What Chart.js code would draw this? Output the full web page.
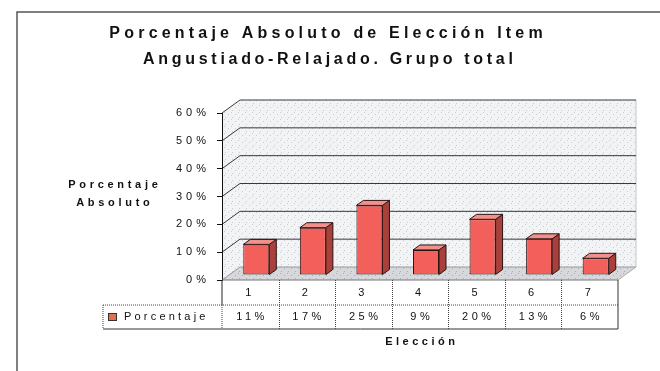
<!DOCTYPE html>
<html>
<head>
<meta charset="utf-8">
<script src="https://cdn.jsdelivr.net/npm/chart.js@4/dist/chart.umd.min.js"></script>
<style>
  html, body { margin: 0; padding: 0; background: #fff; }
  canvas { display: block; }
</style>
</head>
<body>
<canvas id="eleccion" width="660" height="371"></canvas>
<script>
const categories = ["1", "2", "3", "4", "5", "6", "7"];
const porcentaje = [11, 17, 25, 9, 20, 13, 6];
const yTicks = [0, 10, 20, 30, 40, 50, 60];
const titleLines = ["Porcentaje Absoluto de Elección Item", "Angustiado-Relajado. Grupo total"];
const yTitleLines = ["Porcentaje", "Absoluto"];
const xTitle = "Elección";
const seriesName = "Porcentaje";

// depth of the 3D box, offset of the bars inside it and the bars' own depth
const DEPTH = { x: 18, y: -13 };
const BAR_SHIFT = { x: 6, y: -5 };
const BAR_DEPTH = { x: 7, y: -5 };

const FAMILY = '"Liberation Sans", Arial, sans-serif';

function poly(ctx, pts, fill, stroke, width) {
  ctx.beginPath();
  ctx.moveTo(pts[0][0], pts[0][1]);
  for (let i = 1; i < pts.length; i++) ctx.lineTo(pts[i][0], pts[i][1]);
  ctx.closePath();
  if (fill) { ctx.fillStyle = fill; ctx.fill(); }
  if (stroke) { ctx.strokeStyle = stroke; ctx.lineWidth = width || 1; ctx.stroke(); }
}

function line(ctx, x1, y1, x2, y2, color, dash) {
  ctx.save();
  ctx.strokeStyle = color;
  ctx.lineWidth = 1;
  ctx.setLineDash(dash || []);
  ctx.beginPath();
  ctx.moveTo(x1, y1);
  ctx.lineTo(x2, y2);
  ctx.stroke();
  ctx.restore();
}

// text with wide letter spacing, like the old spreadsheet export
function spacedText(ctx, text, x, y, font, spacing, align) {
  ctx.save();
  ctx.font = font;
  ctx.letterSpacing = spacing + "px";
  ctx.textBaseline = "middle";
  ctx.textAlign = "left";
  const w = ctx.measureText(text).width - spacing;
  let sx = x;
  if (align === "center") sx = x - w / 2;
  else if (align === "right") sx = x - w;
  ctx.fillStyle = "#111";
  ctx.fillText(text, sx, y);
  ctx.restore();
}

function wallPattern(ctx, base, dot) {
  const c = document.createElement("canvas");
  c.width = 7; c.height = 7;
  const p = c.getContext("2d");
  p.fillStyle = base; p.fillRect(0, 0, 7, 7);
  p.fillStyle = dot;
  p.fillRect(0, 0, 1, 1); p.fillRect(4, 2, 1, 1); p.fillRect(1, 5, 1, 1);
  return ctx.createPattern(c, "repeat");
}

const box3d = {
  id: "box3d",
  beforeDraw(chart) {
    const { ctx, chartArea: a, scales: { y } } = chart;
    const L = a.left, R = a.right, T = a.top, B = a.bottom;
    const dx = DEPTH.x, dy = DEPTH.y;
    ctx.save();
    // outer frame
    ctx.strokeStyle = "#555";
    ctx.lineWidth = 1.5;
    ctx.strokeRect(17, 12, 700, 400);

    const wall = wallPattern(ctx, "#f1f3f5", "#c8ccd3");
    poly(ctx, [[L, B], [L, T], [L + dx, T + dy], [L + dx, B + dy]], wall);
    poly(ctx, [[L + dx, T + dy], [R + dx, T + dy], [R + dx, B + dy], [L + dx, B + dy]], wall);
    poly(ctx, [[L, B], [R, B], [R + dx, B + dy], [L + dx, B + dy]], wallPattern(ctx, "#d6d8db", "#a9adb3"));
    line(ctx, R, B, R + dx, B + dy, "#aaa");
    line(ctx, R + dx, T + dy, R + dx, B + dy, "#c4c4c4");

    yTicks.forEach(v => {
      const py = y.getPixelForValue(v);
      const c = v === 0 ? "#999" : "#3a3a3a";
      line(ctx, L, py, L + dx, py + dy, c);
      line(ctx, L + dx, py + dy, R + dx, py + dy, c);
    });
    ctx.restore();
    ctx.letterSpacing = "4px";
  }
};

const bars3d = {
  id: "bars3d",
  beforeDatasetsDraw(chart) {
    chart.ctx.save();
    chart.ctx.translate(BAR_SHIFT.x, BAR_SHIFT.y);
  },
  afterDatasetsDraw(chart) {
    const ctx = chart.ctx;
    const dx = BAR_DEPTH.x, dy = BAR_DEPTH.y;
    chart.getDatasetMeta(0).data.forEach(bar => {
      const { x, y, base, width } = bar.getProps(["x", "y", "base", "width"], true);
      const l = x - width / 2, r = x + width / 2;
      poly(ctx, [[r, y], [r + dx, y + dy], [r + dx, base + dy], [r, base]], "#a9403b", "#2a1414");
      poly(ctx, [[l, y], [l + dx, y + dy], [r + dx, y + dy], [r, y]], "#f39089", "#2a1414");
    });
    ctx.restore();
  }
};

const tableAndTitles = {
  id: "tableAndTitles",
  afterDraw(chart) {
    const { ctx, chartArea: a, scales: { x } } = chart;
    const colW = (a.right - a.left) / categories.length;
    const rowTop = a.bottom, rowMid = a.bottom + 25, rowBot = a.bottom + 49;
    const legendLeft = 103;
    const dots = [1, 1];

    line(ctx, a.left, rowTop, a.right, rowTop, "#777");
    line(ctx, a.left, rowTop, a.left, rowMid, "#222");
    line(ctx, a.right, rowTop, a.right, rowBot, "#333");
    line(ctx, legendLeft, rowBot, a.right, rowBot, "#333");
    line(ctx, legendLeft, rowMid, a.right, rowMid, "#444", dots);
    line(ctx, legendLeft, rowMid, legendLeft, rowBot, "#444", dots);
    line(ctx, a.left, rowMid, a.left, rowBot, "#444", dots);
    for (let i = 1; i < categories.length; i++) {
      const cx = Math.round(a.left + i * colW) + 0.5;
      line(ctx, cx, rowTop, cx, rowBot, "#444", dots);
    }

    const rowY = (rowMid + rowBot) / 2;
    porcentaje.forEach((v, i) => {
      spacedText(ctx, v + "%", x.getPixelForValue(i), rowY, "11px " + FAMILY, 3.5, "center");
    });

    // legend key of the data table
    ctx.save();
    ctx.fillStyle = "#e0704e";
    ctx.strokeStyle = "#333";
    ctx.fillRect(108, rowY - 4, 9, 8);
    ctx.strokeRect(108.5, rowY - 3.5, 8, 7);
    ctx.restore();
    spacedText(ctx, seriesName, 124, rowY, "11px " + FAMILY, 3.2, "left");

    spacedText(ctx, xTitle, (a.left + a.right) / 2, 342, "bold 11px " + FAMILY, 3.5, "center");
    yTitleLines.forEach((t, i) => {
      spacedText(ctx, t, 113, 185 + i * 18, "bold 11px " + FAMILY, 3.7, "center");
    });
    spacedText(ctx, titleLines[0], 326, 34, "bold 16px " + FAMILY, 4.2, "center");
    spacedText(ctx, titleLines[1], 328, 60, "bold 16px " + FAMILY, 3.7, "center");
  }
};

new Chart(document.getElementById("eleccion"), {
  type: "bar",
  data: {
    labels: categories,
    datasets: [{
      label: seriesName,
      data: porcentaje,
      backgroundColor: "#f3605b",
      borderColor: "#2a1414",
      borderWidth: 1,
      borderSkipped: false,
      barPercentage: 0.46,
      categoryPercentage: 1,
      clip: false
    }]
  },
  options: {
    responsive: false,
    animation: false,
    devicePixelRatio: 1,
    layout: { padding: { top: 113, right: 42, left: 0, bottom: 0 } },
    plugins: {
      legend: { display: false },
      title: { display: false },
      tooltip: { enabled: false }
    },
    scales: {
      x: {
        grid: { display: false },
        border: { display: false },
        ticks: { color: "#111", font: { family: FAMILY, size: 11 }, padding: -2 },
        afterFit(scale) { scale.height = 91; }
      },
      y: {
        min: yTicks[0],
        max: yTicks[yTicks.length - 1],
        ticks: {
          stepSize: 10,
          color: "#111",
          font: { family: FAMILY, size: 11 },
          padding: 7,
          callback: v => v + "%"
        },
        grid: { drawOnChartArea: false, drawTicks: true, tickLength: 5, color: "#111" },
        border: { display: true, color: "#111", width: 1 },
        afterFit(scale) { scale.width = 222; }
      }
    }
  },
  plugins: [box3d, bars3d, tableAndTitles]
});
</script>
</body>
</html>
